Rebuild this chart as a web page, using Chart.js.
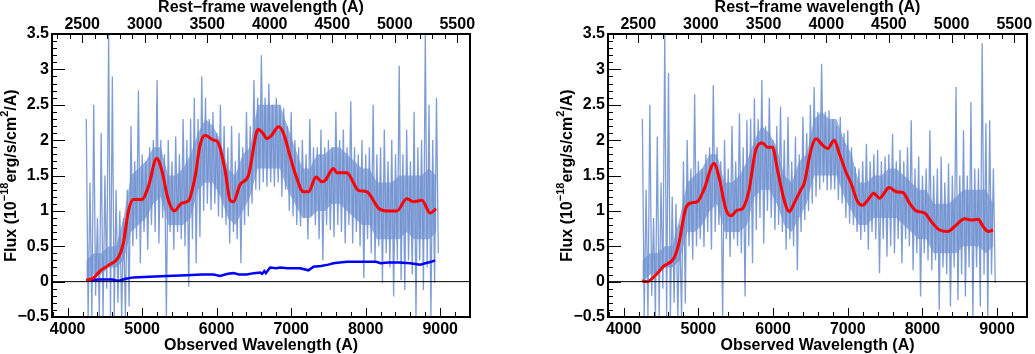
<!DOCTYPE html>
<html>
<head>
<meta charset="utf-8">
<script src="https://cdn.jsdelivr.net/npm/chart.js@4.4.1/dist/chart.umd.min.js"></script>
<style>
  body { margin: 0; background: #fff; }
  #wrap { position: relative; width: 1035px; height: 354px; overflow: hidden; }
  canvas { position: absolute; top: 0; }
</style>
</head>
<body>
<div id="wrap">
  <canvas id="chartLeft" width="517" height="354" style="left:0"></canvas>
  <canvas id="chartRight" width="518" height="354" style="left:517px"></canvas>
</div>
<script>
// observed / rest-frame (1+z)
const ONE_PLUS_Z = 1.678;
const X_MIN = 3790, X_MAX = 9400;
const Y_MIN = -0.5, Y_MAX = 3.5;

// spectrum samples: 4250 A .. 8950 A every 50 A (local high / low of the noisy spectrum)
const SPEC_START = 4250, SPEC_STEP = 50;
// dense core of the spectrum: 4250 A .. 8950 A every 100 A
const CORE_START = 4250, CORE_STEP = 100;

// ---- left panel ----
const specHiL = [
  2.30, 1.40, 2.50, 0.90, 2.10, 1.50, 3.50, 2.90, 1.30, 1.00,
  0.90, 1.30, 2.20, 1.70, 2.70, 1.80, 1.70, 1.90, 2.00, 2.85,
  2.00, 1.80, 2.00, 1.70, 2.05, 1.80, 2.30, 2.00, 2.30, 2.60,
  2.30, 2.90, 2.60, 2.30, 2.40, 2.10, 2.50, 2.20, 1.90, 2.20,
  1.70, 2.10, 1.90, 2.40, 2.20, 2.85, 2.60, 3.20, 2.60, 2.80,
  2.50, 2.60, 2.50, 2.45, 2.20, 2.40, 2.00, 1.90, 2.00, 1.80,
  2.30, 1.90, 1.90, 2.15, 1.90, 2.00, 1.90, 2.40, 2.00, 2.15,
  1.90, 2.55, 1.90, 1.80, 2.00, 1.80, 1.90, 2.50, 1.80, 1.90,
  2.15, 1.70, 2.00, 1.80, 3.05, 1.80, 2.15, 1.70, 2.40, 1.90,
  2.00, 3.50, 2.50, 2.00, 2.60
];
const specLoL = [
  -0.5, -0.5, -0.2, -0.5, -0.5, -0.1, -0.5, -0.5, -0.3, -0.5,
  -0.5, -0.35, 0.5, 0.6, 0.26, 0.7, 0.45, 0.8, 0.7, 0.54,
  0.9, -0.5, 0.7, 0.45, 0.7, 0.6, 0.5, -0.07, 0.6, 0.26,
  0.63, 1.0, 1.1, 1.01, 1.1, 0.92, 0.9, 0.8, 0.54, 0.7,
  0.6, 0.26, 0.8, 0.92, 1.1, 1.3, 1.29, 1.4, 1.34, 1.4,
  1.34, 1.4, 1.2, 1.3, 1.0, 0.92, 0.8, 0.78, 0.9, 0.6,
  0.92, 0.8, 0.6, 0.3, 0.8, 0.73, 0.63, 0.8, 0.7, 0.54,
  0.8, 0.54, 0.7, 0.5, 0.05, 0.6, 0.4, 0.26, 0.5, -0.02,
  0.4, 0.2, -0.21, 0.3, 0.02, -0.12, 0.3, 0.1, -0.5, 0.3,
  -0.12, 0.2, -0.5, -0.02, 0.4
];
const coreHiL = [
  0.3, 0.4, 0.4, 0.5, 0.5, 0.9, 1.5, 1.6, 1.7, 1.9,
  1.9, 1.5, 1.5, 1.6, 1.8, 2.1, 2.3, 2.2, 2.0, 1.6,
  1.5, 1.8, 1.9, 2.5, 2.5, 2.5, 2.5, 2.2, 1.9, 1.6,
  1.6, 1.8, 1.8, 1.9, 1.9, 1.8, 1.7, 1.6, 1.6, 1.4,
  1.4, 1.4, 1.5, 1.5, 1.5, 1.5, 1.6, 1.5
];
const coreLoL = [
  0.0, 0.1, 0.1, 0.2, 0.2, 0.3, 0.7, 0.8, 0.9, 1.1,
  1.2, 0.8, 0.8, 0.8, 0.9, 1.3, 1.4, 1.4, 1.2, 0.9,
  0.8, 1.0, 1.2, 1.6, 1.6, 1.6, 1.6, 1.3, 1.1, 0.9,
  0.9, 1.0, 1.0, 1.1, 1.1, 1.0, 0.9, 0.8, 0.8, 0.6,
  0.6, 0.6, 0.6, 0.7, 0.6, 0.6, 0.6, 0.7
];
// smoothed spectrum (red)
const smoothWaveL = [4250, 4345, 4434, 4546, 4680, 4747, 4814, 4881, 4993, 5083, 5195, 5262, 5352, 5432, 5531, 5620, 5710, 5777, 5846, 5956, 6010, 6112, 6180, 6225, 6314, 6425, 6538, 6560, 6627, 6672, 6739, 6829, 6896, 6986, 7053, 7165, 7232, 7335, 7411, 7456, 7567, 7612, 7746, 7903, 8015, 8171, 8283, 8418, 8552, 8642, 8754, 8865, 8946];
const smoothFluxL = [0.02, 0.05, 0.15, 0.23, 0.34, 0.54, 0.99, 1.16, 1.16, 1.34, 1.74, 1.58, 1.15, 1.00, 1.11, 1.14, 1.48, 1.93, 2.07, 2.00, 1.98, 1.58, 1.15, 1.13, 1.37, 1.50, 2.12, 2.15, 2.09, 2.02, 2.07, 2.19, 2.10, 1.77, 1.53, 1.27, 1.27, 1.48, 1.41, 1.43, 1.60, 1.54, 1.54, 1.29, 1.27, 1.04, 1.00, 1.00, 1.17, 1.13, 1.15, 0.97, 1.03];
// flux error (blue)
const errWaveL = [4250, 4434, 4600, 4680, 4780, 4881, 5100, 5329, 5598, 5800, 5956, 6046, 6150, 6225, 6300, 6404, 6500, 6583, 6610, 6640, 6660, 6717, 6800, 6850, 6950, 7120, 7232, 7299, 7400, 7500, 7567, 7650, 7750, 7900, 8050, 8140, 8200, 8300, 8450, 8600, 8731, 8800, 8880, 8932];
const errFluxL = [0.02, 0.03, 0.03, 0.01, 0.04, 0.06, 0.07, 0.08, 0.09, 0.10, 0.10, 0.08, 0.11, 0.12, 0.10, 0.10, 0.12, 0.13, 0.11, 0.15, 0.12, 0.20, 0.19, 0.20, 0.19, 0.19, 0.16, 0.21, 0.22, 0.24, 0.26, 0.27, 0.28, 0.28, 0.28, 0.28, 0.26, 0.27, 0.27, 0.26, 0.24, 0.26, 0.28, 0.30];

// ---- right panel ----
const specHiR = [
  2.30, 1.30, 2.50, 0.90, 2.05, 1.40, 3.50, 2.95, 1.20, 1.10,
  0.80, 1.70, 2.00, 1.60, 2.65, 1.70, 1.60, 1.80, 1.90, 2.78,
  1.90, 1.70, 2.00, 1.60, 2.20, 1.70, 2.38, 1.90, 2.28, 2.30,
  2.59, 2.30, 2.85, 2.20, 2.60, 2.00, 2.20, 2.47, 2.00, 2.33,
  1.70, 2.05, 1.80, 2.33, 2.10, 2.50, 2.75, 2.40, 3.08, 2.40,
  2.42, 2.30, 2.20, 2.33, 2.10, 2.14, 1.90, 1.62, 1.60, 1.70,
  1.95, 1.70, 1.80, 1.86, 1.70, 1.77, 1.80, 2.09, 1.70, 1.86,
  1.70, 1.90, 2.28, 1.60, 1.77, 1.50, 1.60, 2.14, 1.50, 1.60,
  1.77, 1.40, 1.67, 1.50, 2.75, 1.50, 2.14, 1.50, 2.54, 1.60,
  1.60, 3.37, 2.24, 2.28, 1.60
];
const specLoR = [
  -0.5, -0.5, -0.2, -0.5, -0.5, -0.1, -0.5, -0.5, -0.3, -0.5,
  -0.5, -0.31, 0.5, 0.31, 0.5, 0.6, 0.49, 0.7, 0.45, 0.7,
  0.8, -0.5, 0.6, 0.35, 0.6, 0.5, 0.4, -0.21, 0.5, 0.26,
  0.73, 0.9, 0.54, 1.0, 0.9, 0.73, 0.8, 0.7, 0.45, 0.6,
  0.5, 0.16, 0.7, 0.87, 1.0, 1.1, 1.2, 1.3, 1.4, 1.29,
  1.3, 1.3, 1.15, 1.1, 0.9, 0.82, 0.8, 0.7, 0.59, 0.7,
  0.45, 0.7, 0.6, 0.12, 0.6, 0.35, 0.5, 0.4, 0.6, 0.26,
  0.6, 0.5, 0.16, 0.4, -0.21, 0.4, 0.3, 0.16, 0.3, -0.4,
  0.2, 0.1, -0.35, 0.2, -0.26, 0.1, -0.21, 0.2, -0.5, 0.2,
  -0.35, 0.1, -0.5, 0.1, -0.02
];
const coreHiR = [
  0.3, 0.4, 0.4, 0.5, 0.5, 0.9, 1.4, 1.5, 1.6, 1.8,
  1.8, 1.4, 1.4, 1.5, 1.7, 2.0, 2.2, 2.1, 1.9, 1.5,
  1.4, 1.7, 1.8, 2.3, 2.4, 2.3, 2.3, 2.0, 1.8, 1.4,
  1.4, 1.5, 1.5, 1.6, 1.6, 1.5, 1.4, 1.3, 1.3, 1.1,
  1.1, 1.1, 1.2, 1.3, 1.3, 1.3, 1.3, 1.1
];
const coreLoR = [
  0.0, 0.1, 0.1, 0.2, 0.2, 0.3, 0.7, 0.7, 0.8, 1.0,
  1.1, 0.7, 0.7, 0.7, 0.8, 1.2, 1.3, 1.3, 1.1, 0.8,
  0.7, 0.9, 1.1, 1.5, 1.5, 1.5, 1.5, 1.2, 1.0, 0.8,
  0.8, 0.9, 0.9, 0.9, 0.9, 0.8, 0.7, 0.6, 0.6, 0.4,
  0.4, 0.4, 0.4, 0.5, 0.5, 0.5, 0.4, 0.5
];
const smoothWaveR = [4247, 4314, 4426, 4538, 4672, 4739, 4829, 4896, 4985, 5075, 5209, 5276, 5366, 5433, 5522, 5589, 5678, 5768, 5858, 5925, 5992, 6059, 6149, 6216, 6283, 6372, 6417, 6507, 6574, 6663, 6730, 6820, 6887, 6976, 7044, 7133, 7200, 7267, 7348, 7424, 7536, 7559, 7648, 7738, 7827, 7917, 8029, 8118, 8230, 8342, 8431, 8566, 8655, 8745, 8812, 8879, 8946];
const smoothFluxR = [0.01, 0.0, 0.09, 0.22, 0.33, 0.54, 1.03, 1.11, 1.13, 1.30, 1.67, 1.48, 1.03, 0.93, 1.01, 1.03, 1.29, 1.86, 1.96, 1.90, 1.90, 1.58, 1.15, 0.99, 1.11, 1.30, 1.39, 1.86, 2.02, 1.93, 1.88, 2.00, 1.81, 1.55, 1.39, 1.13, 1.08, 1.15, 1.25, 1.18, 1.32, 1.33, 1.27, 1.26, 1.11, 1.00, 0.97, 0.85, 0.73, 0.71, 0.78, 0.89, 0.87, 0.88, 0.78, 0.71, 0.73];

// axis tick labels
const obsTicks = [4000, 5000, 6000, 7000, 8000, 9000];
const restTicks = [2500, 3000, 3500, 4000, 4500, 5000, 5500];
const fluxTicks = [-0.5, 0, 0.5, 1, 1.5, 2, 2.5, 3, 3.5];

const FONT = "'Liberation Sans', Arial, Helvetica, sans-serif";
const SPEC_COLOR = "rgba(112, 145, 208, 0.9)";
const CORE_COLOR = "rgba(122, 153, 211, 0.75)";

function toPoints(xs, ys) {
    return ys.map((v, i) => ({ x: xs[i], y: v }));
}

// noisy spectrum as a high/low zigzag line
function spikePoints(hi, lo) {
    const pts = [];
    hi.forEach((v, i) => {
        const w = SPEC_START + i * SPEC_STEP;
        pts.push({ x: w, y: v });
        pts.push({ x: w + SPEC_STEP / 2, y: lo[i] });
    });
    return pts;
}

function corePoints(vals) {
    return vals.map((v, i) => ({ x: CORE_START + i * CORE_STEP, y: v }));
}

function minusLabel(v) {
    return v < 0 ? "\u2212" + Math.abs(v) : String(v);
}

// frame, inward ticks, zero line and the y title with superscripts
const framePlugin = {
    id: "frame",
    afterDatasetsDraw(chart) {
        const { ctx, chartArea: a, scales } = chart;
        ctx.save();
        ctx.strokeStyle = "#000";

        // zero line
        const y0 = scales.y.getPixelForValue(0);
        ctx.lineWidth = 1;
        ctx.beginPath();
        ctx.moveTo(a.left, y0);
        ctx.lineTo(a.right, y0);
        ctx.stroke();

        ctx.lineWidth = 1;
        ctx.beginPath();
        // bottom: major 1000 A, minor 200 A
        for (let w = 3800; w <= X_MAX; w += 200) {
            const px = Math.round(scales.x.getPixelForValue(w)) + 0.5;
            const len = w % 1000 === 0 ? 9 : 5;
            ctx.moveTo(px, a.bottom);
            ctx.lineTo(px, a.bottom - len);
        }
        // top: major 500 A, minor 100 A (rest frame)
        for (let w = 2300; w <= X_MAX / ONE_PLUS_Z; w += 100) {
            const px = Math.round(scales.x2.getPixelForValue(w)) + 0.5;
            if (px < a.left || px > a.right) continue;
            const len = w % 500 === 0 ? 9 : 5;
            ctx.moveTo(px, a.top);
            ctx.lineTo(px, a.top + len);
        }
        // left: major 0.5, minor 0.1
        for (let k = -5; k <= 35; k++) {
            const py = Math.round(scales.y.getPixelForValue(k / 10)) + 0.5;
            const len = k % 5 === 0 ? 13 : 5;
            ctx.moveTo(a.left, py);
            ctx.lineTo(a.left + len, py);
        }
        ctx.stroke();

        ctx.lineWidth = 2;
        ctx.strokeRect(a.left, a.top, a.right - a.left, a.bottom - a.top);

        // y title: Flux (10^-18 erg/s/cm^2/A)
        const parts = [
            ["Flux (10", false], ["\u221218", true], ["erg/s/cm", false], ["2", true], ["/A)", false]
        ];
        const big = "bold 16px " + FONT, small = "bold 11px " + FONT;
        let total = 0;
        parts.forEach(([t, sup]) => { ctx.font = sup ? small : big; total += ctx.measureText(t).width; });
        ctx.translate(a.left - 40, (a.top + a.bottom) / 2);
        ctx.rotate(-Math.PI / 2);
        ctx.fillStyle = "#000";
        ctx.textBaseline = "middle";
        let x = -total / 2;
        parts.forEach(([t, sup]) => {
            ctx.font = sup ? small : big;
            ctx.fillText(t, x, sup ? -7 : 0);
            x += ctx.measureText(t).width;
        });
        ctx.restore();
    }
};

function makePanel(canvasId, d, layout) {
    const datasets = [];
    datasets.push({
        data: toPoints(d.smoothWave, d.smoothFlux),
        borderColor: "#ff0000", borderWidth: 3, pointRadius: 0,
        cubicInterpolationMode: "monotone", order: 0
    });
    if (d.errWave) {
        datasets.push({
            data: toPoints(d.errWave, d.errFlux),
            borderColor: "#0000ff", borderWidth: 2.5, pointRadius: 0, order: 1
        });
    }
    datasets.push({
        data: spikePoints(d.hi, d.lo),
        borderColor: SPEC_COLOR, borderWidth: 1.3, pointRadius: 0, order: 2
    });
    datasets.push({
        data: corePoints(d.coreLo),
        borderWidth: 0, borderColor: "rgba(0,0,0,0)", pointRadius: 0, order: 4
    });
    datasets.push({
        data: corePoints(d.coreHi),
        borderWidth: 0, borderColor: "rgba(0,0,0,0)", pointRadius: 0, order: 3,
        fill: "-1", backgroundColor: CORE_COLOR
    });

    const tickFont = { family: FONT, size: 16, weight: "bold" };
    const titleFont = { family: FONT, size: 16, weight: "bold", lineHeight: 1 };
    const plain = v => String(v);

    return new Chart(document.getElementById(canvasId), {
        type: "line",
        data: { datasets },
        plugins: [framePlugin],
        options: {
            responsive: false,
            animation: false,
            devicePixelRatio: 1,
            events: [],
            layout: { padding: { left: layout.left, right: layout.right, top: 0, bottom: 0 } },
            plugins: { legend: { display: false }, tooltip: { enabled: false } },
            scales: {
                x: {
                    type: "linear", position: "bottom", min: X_MIN, max: X_MAX,
                    afterFit: s => { s.height = 37; },
                    afterBuildTicks: s => { s.ticks = obsTicks.map(v => ({ value: v })); },
                    grid: { display: false, drawTicks: false }, border: { display: false },
                    ticks: { font: tickFont, color: "#000", padding: 3, maxRotation: 0, autoSkip: false, callback: plain },
                    title: { display: true, text: "Observed Wavelength (A)", font: titleFont, color: "#000", padding: 0 }
                },
                x2: {
                    type: "linear", position: "top", min: X_MIN / ONE_PLUS_Z, max: X_MAX / ONE_PLUS_Z,
                    afterFit: s => { s.height = 34; },
                    afterBuildTicks: s => { s.ticks = restTicks.map(v => ({ value: v })); },
                    grid: { display: false, drawTicks: false }, border: { display: false },
                    ticks: { font: tickFont, color: "#000", padding: 0, maxRotation: 0, autoSkip: false, callback: plain },
                    title: { display: true, text: "Rest\u2212frame wavelength (A)", font: titleFont, color: "#000", padding: 0 }
                },
                y: {
                    type: "linear", position: "left", min: Y_MIN, max: Y_MAX,
                    afterFit: s => { s.width = layout.yWidth; },
                    afterBuildTicks: s => { s.ticks = fluxTicks.map(v => ({ value: v })); },
                    grid: { display: false, drawTicks: false }, border: { display: false },
                    ticks: { font: tickFont, color: "#000", padding: 3, callback: minusLabel, autoSkip: false }
                }
            }
        }
    });
}

document.addEventListener("DOMContentLoaded", function () {
    makePanel("chartLeft", {
        hi: specHiL, lo: specLoL, coreHi: coreHiL, coreLo: coreLoL,
        smoothWave: smoothWaveL, smoothFlux: smoothFluxL,
        errWave: errWaveL, errFlux: errFluxL
    }, { left: 0, right: 47, yWidth: 52 });

    makePanel("chartRight", {
        hi: specHiR, lo: specLoR, coreHi: coreHiR, coreLo: coreLoR,
        smoothWave: smoothWaveR, smoothFlux: smoothFluxR
    }, { left: 38, right: 8, yWidth: 53 });
});
</script>
</body>
</html>
